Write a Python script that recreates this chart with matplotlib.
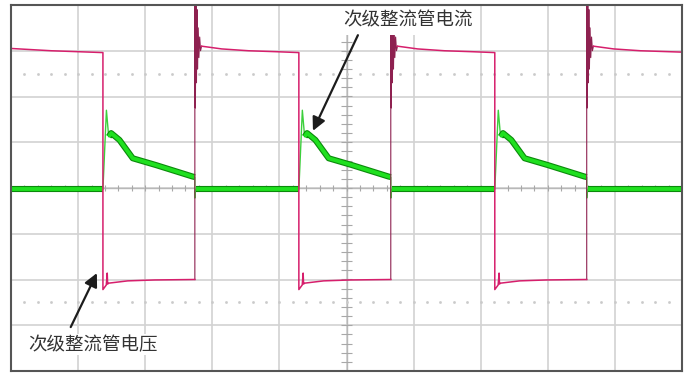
import matplotlib
matplotlib.use("Agg")
import matplotlib.pyplot as plt
import matplotlib.patheffects as pe
import numpy as np

plt.rcParams['font.family'] = ['Noto Sans CJK SC', 'DejaVu Sans']

# Screen is 10 x 8 divisions, centre at (5, 0). All values in divisions.
fall_edges = [1.37, 4.29, 7.21]   # rectifier voltage falls, current starts
rise_edges = [2.74, 5.66, 8.58]   # rectifier voltage recovers, current stops

# rectifier voltage at the left edge of the screen, up to the first fall
v_start_t = [0.00, 0.60, 1.37]
v_start_y = [3.05, 3.00, 2.96]
# low interval, time measured from each falling edge
v_low_t = [0.000, 0.000, 0.050, 0.064, 0.070, 0.085, 0.370, 0.770, 1.370]
v_low_y = [2.96, -2.22, -2.12, -1.86, -2.10, -2.08, -2.03, -2.01, -2.00]
# ringing on each rising edge, time from the edge
ring_t = [0.000, 0.000, 0.008, 0.016, 0.024, 0.032, 0.040, 0.050,
          0.060, 0.072, 0.085, 0.100]
ring_y = [-2.00, 4.20, 1.75, 4.20, 2.30, 3.90, 2.60, 3.50,
          2.85, 3.30, 3.00, 3.10]
# high interval after the ringing, time from the rising edge
v_high_t = [0.10, 0.40, 0.80, 1.20, 1.55]
v_high_y = [3.10, 3.04, 3.00, 2.98, 2.96]
v_end_y = 2.97

# rectifier current
i_zero = -0.03
i_pulse_t = [0.000, 0.052, 0.086, 0.122, 0.246, 0.444, 0.793, 1.338, 1.370]
i_pulse_y = [i_zero, 1.70, 1.12, 1.20, 1.05, 0.65, 0.50, 0.25, 0.24]
i_recov_t = [0.000, 0.006, 0.020]
i_recov_y = [-0.22, -0.10, i_zero]

label_current = "次级整流管电流"
label_voltage = "次级整流管电压"

fig = plt.figure(figsize=(6.87, 3.73), dpi=100)
ax = fig.add_axes([11 / 687, 2 / 373, 671 / 687, 366 / 373])
ax.set_xlim(0, 10)
ax.set_ylim(-4, 4)
ax.set_xticks([])
ax.set_yticks([])
for s in ax.spines.values():
    s.set_color('#555555')
    s.set_linewidth(1.5)
    s.set_zorder(7)

# graticule
grid_c = '#d2d2d2'
for gx in range(1, 10):
    ax.axvline(gx, color=grid_c, lw=1.2, zorder=0)
for gy in range(-3, 4):
    ax.axhline(gy, color=grid_c, lw=1.2, zorder=0)
ax.axvline(5, color='#b8b8b8', lw=1.0, zorder=0.5)
ax.axhline(0, color='#b8b8b8', lw=1.0, zorder=0.5)
minor_x = np.arange(0.2, 10.0, 0.2)
minor_y = np.arange(-3.8, 4.0, 0.2)
ax.vlines(minor_x, -0.06, 0.06, color='#a8a8a8', lw=0.8, zorder=0.5)
ax.hlines(minor_y, 4.92, 5.08, color='#a8a8a8', lw=0.8, zorder=0.5)
for ry in (2.5, -2.5):
    ax.plot(minor_x, np.full_like(minor_x, ry), ls='none', marker='s',
            ms=0.9, color='#cacaca', zorder=0.5)

# ---- current trace ----
cur_x, cur_y = [0.0], [i_zero]
band_segments = []
seg_start = 0.0
for f, r in zip(fall_edges, rise_edges):
    band_segments.append(([seg_start, f], [i_zero, i_zero]))
    cur_x += [f + t for t in i_pulse_t]
    cur_y += i_pulse_y
    band_segments.append(([f + t for t in i_pulse_t[2:]], i_pulse_y[2:]))
    cur_x += [r + t for t in i_recov_t]
    cur_y += i_recov_y
    seg_start = r + i_recov_t[-1]
band_segments.append(([seg_start, 10.0], [i_zero, i_zero]))
cur_x.append(10.0)
cur_y.append(i_zero)

ax.plot(cur_x, cur_y, color='#3ccf3c', lw=1.0, zorder=2)
for bx, by in band_segments:
    ax.plot(bx, by, color='#1fe01f', lw=2.8, solid_capstyle='butt', zorder=3,
            path_effects=[pe.Stroke(linewidth=4.4, foreground='#0b8a0b'),
                          pe.Normal()])

# ---- voltage trace ----
mag = '#d61f6c'
ring_c = '#8e2150'
pieces = []
px, py = list(v_start_t), list(v_start_y)
for k, (f, r) in enumerate(zip(fall_edges, rise_edges)):
    px += [f + t for t in v_low_t]
    py += v_low_y
    pieces.append((px, py))
    ax.plot([r + t for t in ring_t], ring_y, color=ring_c, lw=0.8, zorder=4)
    if k < len(fall_edges) - 1:
        px = [r + t for t in v_high_t]
        py = list(v_high_y)
last = rise_edges[-1]
pieces.append(([last + t for t in v_high_t[:3]] + [10.0],
               v_high_y[:3] + [v_end_y]))
for px, py in pieces:
    ax.plot(px, py, color=mag, lw=1.1, zorder=4)

# ---- labels ----
box = dict(facecolor='white', edgecolor='none', pad=4.0)
ax.text(5.92, 3.66, label_current, ha='center', va='center',
        fontsize=13.3, color='#333333', zorder=6, bbox=box)
ax.text(1.22, -3.43, label_voltage, ha='center', va='center',
        fontsize=13.3, color='#333333', zorder=6,
        bbox=dict(facecolor='white', edgecolor='none', pad=1.0))
arrow = dict(arrowstyle='-|>', color='#1c1c1c', lw=1.6, mutation_scale=20,
             shrinkA=0, shrinkB=0)
ax.annotate('', xy=(4.50, 1.25), xytext=(5.17, 3.34), arrowprops=arrow, zorder=6)
ax.annotate('', xy=(1.28, -1.86), xytext=(0.89, -3.04), arrowprops=arrow, zorder=6)

fig.savefig('out.png', dpi=100)
